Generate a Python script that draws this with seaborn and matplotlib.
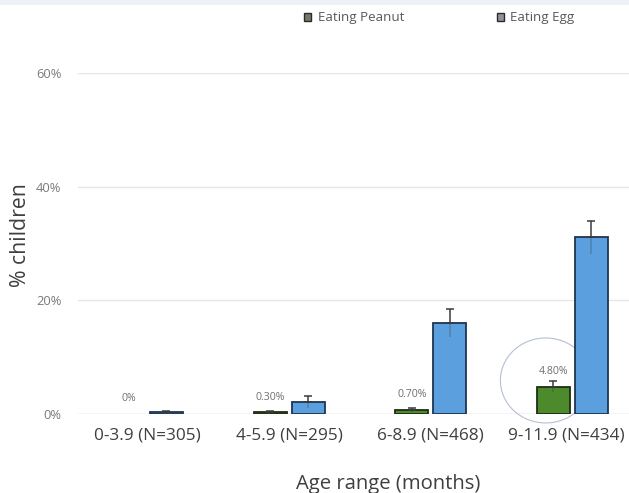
import matplotlib
matplotlib.use("Agg")
import matplotlib.pyplot as plt
from matplotlib.patches import Ellipse, Patch, Rectangle
from matplotlib.transforms import ScaledTranslation
import numpy as np
import pandas as pd
import seaborn as sns

# Age groups (months) with sample sizes
age_groups = ["0-3.9 (N=305)", "4-5.9 (N=295)", "6-8.9 (N=468)", "9-11.9 (N=434)"]
foods = ["Eating Peanut", "Eating Egg"]

# Percentage of children eating each food, with error margins
peanut_pct = [0.0, 0.3, 0.7, 4.8]
peanut_err = [0.0, 0.25, 0.35, 1.0]
egg_pct = [0.3, 2.1, 16.0, 31.1]
egg_err = [0.25, 1.0, 2.4, 2.9]

peanut_labels = ["0%", "0.30%", "0.70%", "4.80%"]
y_ticks = [0, 20, 40, 60]
y_tick_labels = ["0%", "20%", "40%", "60%"]

df = pd.DataFrame({
    "age": age_groups * 2,
    "food": [foods[0]] * 4 + [foods[1]] * 4,
    "pct": peanut_pct + egg_pct,
})

sns.set_theme(style="white")
plt.rcParams["font.family"] = ["Open Sans", "DejaVu Sans"]

GREEN = "#4d8a2c"
BLUE = "#5b9fdf"

fig = plt.figure(figsize=(6.29, 4.93), dpi=100)
fig.patch.set_facecolor("white")
ax = fig.add_axes([78 / 629, 1 - 414 / 493, 551 / 629, 341 / 493])

# faint band along the top edge
fig.patches.append(Rectangle((0, 1 - 5 / 493), 1, 5 / 493, transform=fig.transFigure,
                             facecolor="#eef2f8", edgecolor="none", zorder=0))

sns.barplot(data=df, x="age", y="pct", hue="food", order=age_groups, hue_order=foods,
            palette=[GREEN, BLUE], width=0.536, gap=0.13, errorbar=None,
            edgecolor="#1c2a3a", linewidth=1.3, saturation=1, legend=False, ax=ax,
            zorder=3)

peanut_bars, egg_bars = ax.containers[0], ax.containers[1]
for bar in peanut_bars:
    bar.set_edgecolor("#1d2d12")
    if bar.get_height() == 0:
        bar.set_linewidth(0)
for bar in egg_bars:
    bar.set_edgecolor("#1e3553")


def centers(container):
    return np.array([b.get_x() + b.get_width() / 2 for b in container])


def draw_errors(xs, vals, errs):
    xs, vals, errs = np.asarray(xs), np.asarray(vals), np.asarray(errs)
    m = errs > 0
    zeros = np.zeros(m.sum())
    ax.errorbar(xs[m], vals[m], yerr=[zeros, errs[m]], fmt="none", ecolor="#3a3a3a",
                elinewidth=1.1, capsize=3.2, capthick=1.1, zorder=5)
    ax.errorbar(xs[m], vals[m], yerr=[errs[m], zeros], fmt="none", ecolor="#3a3a3a",
                elinewidth=1.1, capsize=0, alpha=0.3, zorder=5)


px = centers(peanut_bars)
ex = centers(egg_bars)
draw_errors(px, peanut_pct, peanut_err)
draw_errors(ex, egg_pct, egg_err)

# value labels above the peanut bars
for x, v, lab in zip(px, peanut_pct, peanut_labels):
    ax.annotate(lab, (x, v), xytext=(0, 11), textcoords="offset points",
                ha="center", va="center", fontsize=7.6, color="#6f6f6f", zorder=6)

# highlight circle around the oldest peanut group
ax.add_patch(Ellipse((px[3] - 0.054, peanut_pct[3] + 1.1), 0.64, 14.95, fill=False,
                     edgecolor="#b4c0d2", linewidth=0.8, clip_on=False, zorder=2))

ax.set_ylim(0, 60)
ax.set_xlim(-0.49, 3.40)
ax.set_yticks(y_ticks)
ax.set_yticklabels(y_tick_labels)
ax.yaxis.grid(True, color="#e6e6e6", linewidth=1.0, zorder=0)
ax.set_axisbelow(True)
for s in ax.spines.values():
    s.set_visible(False)
ax.axhline(0, color="#dcdcdc", linewidth=1.0, zorder=1)

ax.tick_params(axis="y", length=0, pad=12, labelsize=9.3, labelcolor="#7a7a7a")
ax.tick_params(axis="x", length=0, pad=10, labelsize=12.4, labelcolor="#3f3f3f")

# nudge the last category label so it stays inside the figure
last = ax.get_xticklabels()[-1]
last.set_transform(last.get_transform() + ScaledTranslation(-6 / 100, 0, fig.dpi_scale_trans))

ax.set_xlabel("Age range (months)", fontsize=14.6, color="#3f3f3f")
ax.xaxis.set_label_coords(0.563, -0.205)
ax.xaxis.label.set_va("center")
ax.set_ylabel("% children", fontsize=15.3, color="#3f3f3f")
ax.yaxis.set_label_coords(-0.105, 0.525)
ax.yaxis.label.set_va("center")

handles = [Patch(facecolor="#727a6c", edgecolor="#2b2b2b", linewidth=1.0),
           Patch(facecolor="#8e949c", edgecolor="#2b2b2b", linewidth=1.0)]
fig.legend(handles, foods, ncol=2, loc="center left",
           bbox_to_anchor=(304 / 629, 1 - 18 / 493), frameon=False,
           fontsize=9.6, labelcolor="#595959", handlelength=0.55, handleheight=0.55,
           handletextpad=0.5, columnspacing=6.9, borderpad=0, borderaxespad=0)

fig.savefig("out.png", dpi=100)
